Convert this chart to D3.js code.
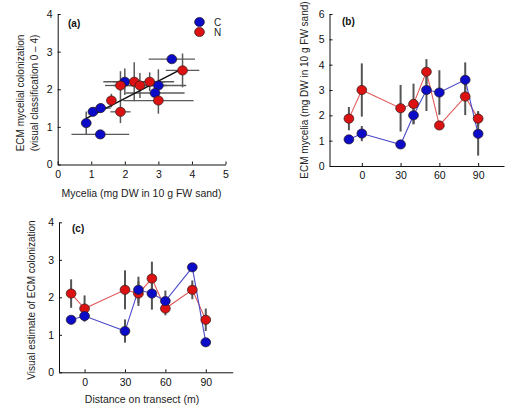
<!DOCTYPE html>
<html>
<head>
<meta charset="utf-8">
<script src="https://cdn.jsdelivr.net/npm/d3@7"></script>
<style>
  html, body { margin: 0; padding: 0; background: #fff; }
  svg { display: block; font-family: "Liberation Sans", Arial, sans-serif; }
</style>
</head>
<body>
<svg id="chart" width="516" height="408"></svg>
<script>
// ---- data ----
const distances = [-10, 0, 30, 40, 50, 60, 80, 90];
const seriesNames = ["C", "N"];
// (b) ECM mycelia (mg DW in 10 g FW sand)
const myceliaC = [1.05, 1.28, 0.85, 2.0, 3.0, 2.9, 3.4, 1.27];
const myceliaN = [1.87, 3.0, 2.28, 2.45, 3.72, 1.6, 2.74, 1.87];
const myceliaErrC = [0.0, 0.3, 0.15, 0.35, 0.83, 0.88, 0.69, 0.86];
const myceliaErrN = [0.46, 1.05, 0.92, 0.8, 0.5, 0.0, 0.73, 0.3];
// (c) visual estimate of ECM colonization
const colonC = [1.4, 1.5, 1.1, 2.2, 2.1, 1.9, 2.8, 0.8];
const colonN = [2.1, 1.7, 2.2, 2.1, 2.5, 1.7, 2.2, 1.4];
const colonErrC = [0.0, 0.13, 0.31, 0.35, 0.43, 0.28, 0.0, 0.0];
const colonErrN = [0.38, 0.35, 0.52, 0.33, 0.45, 0.18, 0.25, 0.3];
// (a) regression line endpoints (mycelia, colonization)
const regressionLine = [[0.84, 1.22], [3.7, 2.54]];
// ticks
const ticksA_x = [0, 1, 2, 3, 4, 5];
const ticksA_y = [0, 1, 2, 3, 4];
const ticksB_y = [0, 1, 2, 3, 4, 5, 6];
const ticksC_y = [0, 1, 2, 3, 4];
const ticksDist = [0, 30, 60, 90];

// ---- styles ----
const fillC = "#0c0cc8", fillN = "#dc1212";
const lineC = "#4a4ac8", lineN = "#e05a5a";
const edge = "#2a1a1a";
const errCol = "#555555";
const R = 4.6;
const FS = "10.5px";

const svg = d3.select("#chart");

function makeAxes(g, x, y, xt, yt) {
  const ax = g.append("g").attr("transform", `translate(0,${y.range()[0]})`)
    .call(d3.axisBottom(x).tickValues(xt).tickFormat(d3.format("d"))
      .tickSizeInner(-3).tickSizeOuter(0).tickPadding(6));
  const ay = g.append("g").attr("transform", `translate(${x.range()[0]},0)`)
    .call(d3.axisLeft(y).tickValues(yt).tickFormat(d3.format("d"))
      .tickSizeInner(-3).tickSizeOuter(0).tickPadding(5));
  [ax, ay].forEach(a => {
    a.selectAll("text").attr("font-size", FS).attr("fill", "#111").attr("font-family", "Liberation Sans, Arial, sans-serif");
    a.selectAll("line").attr("stroke", "#111");
    a.select(".domain").attr("stroke", "#111");
  });
}

function panelLabel(text, x, y) {
  svg.append("text").attr("x", x).attr("y", y).attr("font-size", "10px")
    .attr("font-weight", "bold").attr("fill", "#111").text(text);
}

function yTitle(lines, cx, cy, fs) {
  const t = svg.append("text").attr("transform", `translate(${cx},${cy}) rotate(-90)`)
    .attr("text-anchor", "middle").attr("font-size", fs || FS).attr("fill", "#222");
  lines.forEach((l, i) => t.append("tspan").attr("x", 0).attr("dy", i === 0 ? 0 : "1.35em").text(l));
}

function xTitle(text, cx, cy) {
  svg.append("text").attr("x", cx).attr("y", cy).attr("text-anchor", "middle")
    .attr("font-size", FS).attr("fill", "#222").text(text);
}

function drawTransect(x, y, yt, valsC, valsN, errC, errN) {
  const g = svg.append("g");
  makeAxes(g, x, y, ticksDist, yt);
  const line = d3.line().x(d => x(d[0])).y(d => y(d[1]));
  const sets = [
    { v: valsN, e: errN, fill: fillN, lc: lineN },
    { v: valsC, e: errC, fill: fillC, lc: lineC }
  ];
  sets.forEach(s => {
    g.append("path").datum(distances.map((d, i) => [d, s.v[i]]))
      .attr("d", line).attr("fill", "none").attr("stroke", s.lc).attr("stroke-width", 1.1);
  });
  sets.forEach(s => {
    g.selectAll(null).data(distances.map((d, i) => [d, s.v[i], s.e[i]]).filter(d => d[2] > 0))
      .enter().append("line")
      .attr("x1", d => x(d[0])).attr("x2", d => x(d[0]))
      .attr("y1", d => y(d[1] - d[2])).attr("y2", d => y(d[1] + d[2]))
      .attr("stroke", errCol).attr("stroke-width", 2);
  });
  sets.forEach(s => {
    g.selectAll(null).data(distances.map((d, i) => [d, s.v[i]]))
      .enter().append("ellipse")
      .attr("cx", d => x(d[0])).attr("cy", d => y(d[1]))
      .attr("rx", R + 0.3).attr("ry", R)
      .attr("fill", s.fill).attr("stroke", edge).attr("stroke-width", 0.7);
  });
}

// Panel (b)
const xB = d3.scaleLinear().domain([-25, 110]).range([329.5, 504]);
const yB = d3.scaleLinear().domain([0, 6]).range([166, 14]);
drawTransect(xB, yB, ticksB_y, myceliaC, myceliaN, myceliaErrC, myceliaErrN);
panelLabel("(b)", 342, 25);
yTitle(["ECM mycelia (mg DW in 10 g FW sand)"], 308, 90, "10px");

// Panel (c)
const xC = d3.scaleLinear().domain([-19, 110]).range([59, 232.7]);
const yC = d3.scaleLinear().domain([0, 4]).range([372.3, 222.3]);
drawTransect(xC, yC, ticksC_y, colonC, colonN, colonErrC, colonErrN);
panelLabel("(c)", 72, 232);
yTitle(["Visual estimate of ECM colonization"], 35, 300, "10px");
xTitle("Distance on transect (m)", 142, 403);

// Panel (a)
const xA = d3.scaleLinear().domain([0, 5]).range([57.7, 225.5]);
const yA = d3.scaleLinear().domain([0, 4]).range([164.5, 14]);
const gA = svg.append("g");
makeAxes(gA, xA, yA, ticksA_x, ticksA_y);
const ptsA = [];
distances.forEach((d, i) => {
  ptsA.push({ s: "C", x: myceliaC[i], y: colonC[i], ex: myceliaErrC[i], ey: colonErrC[i] });
});
distances.forEach((d, i) => {
  ptsA.push({ s: "N", x: myceliaN[i], y: colonN[i], ex: myceliaErrN[i], ey: colonErrN[i] });
});
gA.selectAll(null).data(ptsA.filter(p => p.ex > 0)).enter().append("line")
  .attr("x1", p => xA(p.x - p.ex)).attr("x2", p => xA(p.x + p.ex))
  .attr("y1", p => yA(p.y)).attr("y2", p => yA(p.y))
  .attr("stroke", "#5a5a5a").attr("stroke-width", 1.3);
gA.selectAll(null).data(ptsA.filter(p => p.ey > 0)).enter().append("line")
  .attr("x1", p => xA(p.x)).attr("x2", p => xA(p.x))
  .attr("y1", p => yA(p.y - p.ey)).attr("y2", p => yA(p.y + p.ey))
  .attr("stroke", "#5a5a5a").attr("stroke-width", 1.5);
gA.append("line")
  .attr("x1", xA(regressionLine[0][0])).attr("y1", yA(regressionLine[0][1]))
  .attr("x2", xA(regressionLine[1][0])).attr("y2", yA(regressionLine[1][1]))
  .attr("stroke", "#111").attr("stroke-width", 1.5);
gA.selectAll(null).data(ptsA).enter().append("ellipse")
  .attr("cx", p => xA(p.x)).attr("cy", p => yA(p.y))
  .attr("rx", R + 0.3).attr("ry", R)
  .attr("fill", p => p.s === "C" ? fillC : fillN)
  .attr("stroke", edge).attr("stroke-width", 0.7);
seriesNames.forEach((n, i) => {
  gA.append("ellipse").attr("cx", 199.5).attr("cy", 22 + i * 10)
    .attr("rx", R + 0.3).attr("ry", R)
    .attr("fill", n === "C" ? fillC : fillN).attr("stroke", edge).attr("stroke-width", 0.7);
  gA.append("text").attr("x", 214).attr("y", 25.5 + i * 10).attr("font-size", "10px")
    .attr("fill", "#222").text(n);
});
panelLabel("(a)", 68, 27);
yTitle(["ECM mycelial colonization", "(visual classification 0 \u2013 4)"], 24, 93, "10px");
xTitle("Mycelia (mg DW in 10 g FW sand)", 141.5, 197);
</script>
</body>
</html>
